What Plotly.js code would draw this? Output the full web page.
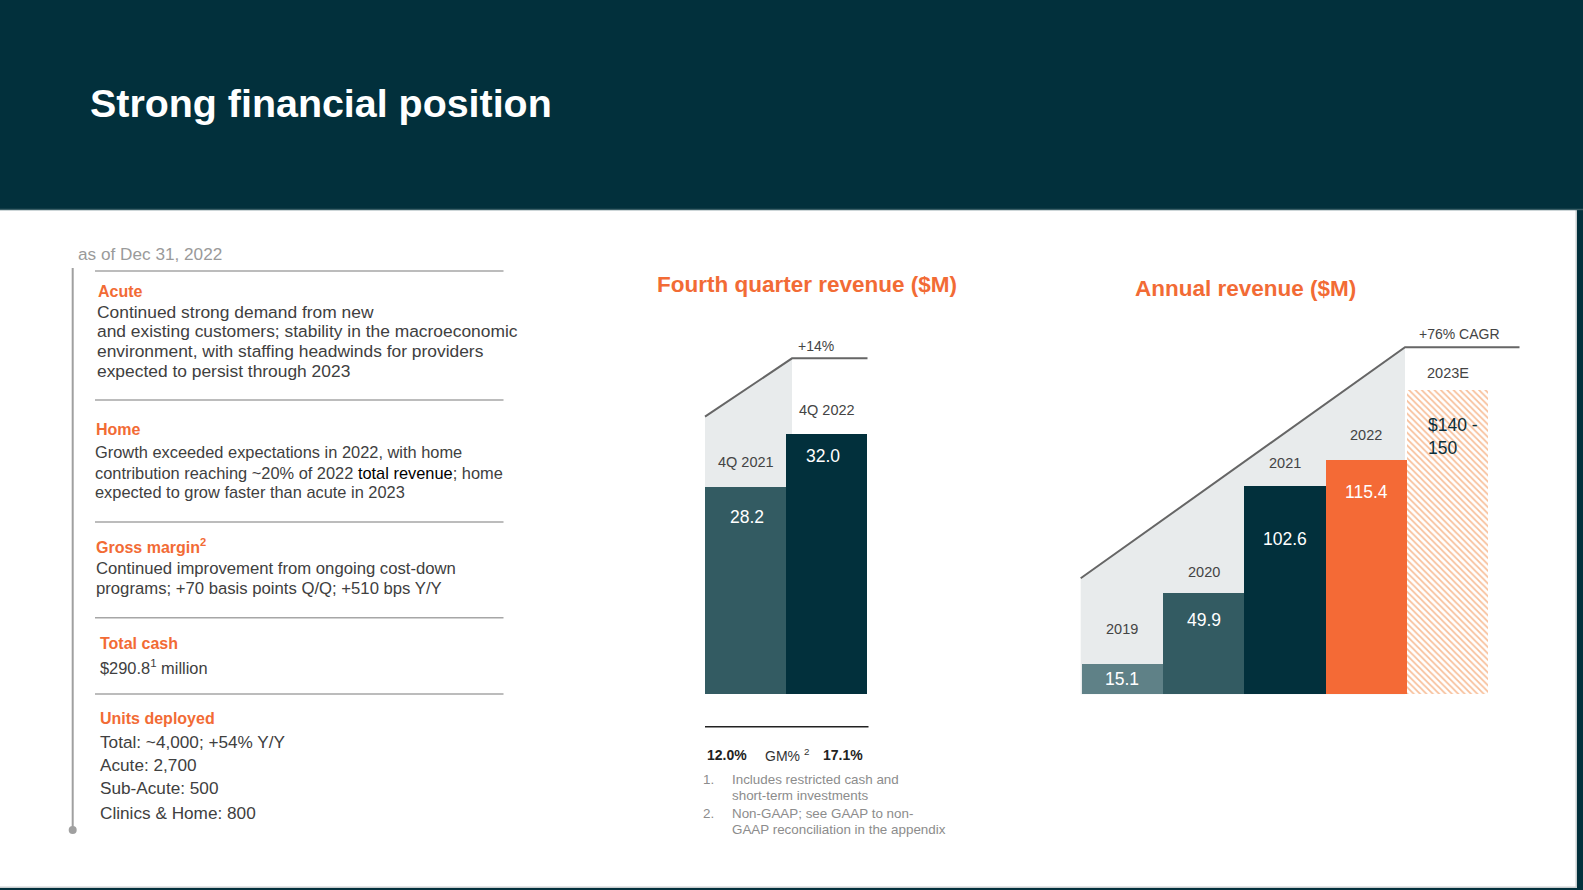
<!DOCTYPE html>
<html>
<head>
<meta charset="utf-8">
<script src="https://cdn.plot.ly/plotly-3.0.1.min.js"></script>
<style>html,body{margin:0;padding:0;background:#02303C;}#chart{width:1583px;height:890px;}</style>
</head>
<body>
<div id="chart"></div>
<script>
// ---------- DATA ----------
const quarterLabels = ['4Q 2021', '4Q 2022'];
const quarterRevenue = [28.2, 32.0];
const quarterValueText = ['28.2', '32.0'];
const quarterGM = ['12.0%', '17.1%'];
const quarterGrowth = '+14%';

const years = ['2019', '2020', '2021', '2022', '2023E'];
const annualRevenue = [15.1, 49.9, 102.6, 115.4, 150];   // 2023E drawn to top of $140-150 guidance
const annualValueText = ['15.1', '49.9', '102.6', '115.4', '$140 -<br>150'];
const annualGrowth = '+76% CAGR';

const headings = ['Acute', 'Home', 'Gross margin<sup>2</sup>', 'Total cash', 'Units deployed'];
const acuteLines = ['Continued strong demand from new',
  'and existing customers; stability in the macroeconomic',
  'environment, with staffing headwinds for providers',
  'expected to persist through 2023'];
const homeLines = ['Growth exceeded expectations in 2022, with home',
  'contribution reaching ~20% of 2022 <span style="color:#000000">total revenue</span>; home',
  'expected to grow faster than acute in 2023'];
const gmLines = ['Continued improvement from ongoing cost-down',
  'programs; +70 basis points Q/Q; +510 bps Y/Y'];
const cashLines = ['$290.8<sup>1</sup> million'];
const unitLines = ['Total: ~4,000; +54% Y/Y', 'Acute: 2,700', 'Sub-Acute: 500', 'Clinics &amp; Home: 800'];
const footnotes = [['1.', 'Includes restricted cash and', 'short-term investments'],
  ['2.', 'Non-GAAP; see GAAP to non-', 'GAAP reconciliation in the appendix']];

// ---------- STYLE / LAYOUT ----------
const W = 1583, H = 890;
const X = v => v / W;
const Y = v => 1 - v / H;
const FONT = 'Liberation Sans, Arial, Helvetica, sans-serif';
const DARK = '#02303C';
const ORANGE = '#F26B35';
const BODY = '#404040';
const GRAYTXT = '#444444';

const quarterColors = ['#335B62', '#02303C'];
const annualColors = ['#5F8187', '#335B62', '#02303C', '#F46A36'];
const nActual = 4;

const traces = [
  {
    type: 'bar', x: quarterLabels, y: quarterRevenue, xaxis: 'x', yaxis: 'y',
    marker: {color: quarterColors, line: {width: 0}}, width: 1, hoverinfo: 'skip', showlegend: false
  },
  {
    type: 'bar', x: years.slice(0, nActual), y: annualRevenue.slice(0, nActual), xaxis: 'x2', yaxis: 'y2',
    marker: {color: annualColors, line: {width: 0}}, width: 1, hoverinfo: 'skip', showlegend: false
  },
  {
    type: 'bar', x: years.slice(nActual), y: annualRevenue.slice(nActual), xaxis: 'x2', yaxis: 'y2',
    marker: {
      color: '#FFFFFF', line: {width: 0},
      pattern: {shape: '\\', fgcolor: '#F8BE98', bgcolor: '#FFFFFF', size: 4.5, solidity: 0.38, fillmode: 'replace'}
    },
    width: 1, hoverinfo: 'skip', showlegend: false
  }
];

const ann = [];
function T(text, x, y, size, color, opts) {
  ann.push(Object.assign({
    xref: 'paper', yref: 'paper', x: X(x), y: Y(y), text: text, showarrow: false,
    xanchor: 'left', yanchor: 'middle', font: {family: FONT, size: size, color: color}
  }, opts || {}));
}

// Title
T('<b>Strong financial position</b>', 88, 103, 39.4, '#FFFFFF');
// as of
T('as of Dec 31, 2022', 76, 254, 17.2, '#9A9A9A');

// Left panel
const headPos = [[96, 291], [94, 429], [94, 546], [98, 643], [98, 718]];
headings.forEach((h, i) => T('<b>' + h + '</b>', headPos[i][0], headPos[i][1], 16, ORANGE));
acuteLines.forEach((t, i) => T(t, 95, 311.5 + i * 19.8, 17.4, BODY));
homeLines.forEach((t, i) => T(t, 93, 452.5 + i * 20, 16.4, BODY));
gmLines.forEach((t, i) => T(t, 94, 568.3 + i * 20, 16.7, BODY));
cashLines.forEach((t, i) => T(t, 98, 667, 16.4, BODY));
const unitY = [742.3, 765, 788.3, 812.7];
unitLines.forEach((t, i) => T(t, 98, unitY[i], 17.2, BODY));

// Chart titles
T('<b>Fourth quarter revenue ($M)</b>', 807, 284, 22.5, ORANGE, {xanchor: 'center'});
T('<b>Annual revenue ($M)</b>', 1245, 288, 22.5, ORANGE, {xanchor: 'center'});

// Growth labels
T(quarterGrowth, 815.7, 346, 14, GRAYTXT, {xanchor: 'center'});
T(annualGrowth, 1459, 334, 14, GRAYTXT, {xanchor: 'center'});

// Quarter labels (above bars) and values (inside)
const qAbove = [25, 24], qBelow = [30, 22];
quarterLabels.forEach((c, i) => {
  ann.push({xref: 'x', yref: 'y', x: i, y: quarterRevenue[i], yshift: qAbove[i], text: c, showarrow: false,
    xanchor: 'center', yanchor: 'middle', font: {family: FONT, size: 14.5, color: GRAYTXT}});
  ann.push({xref: 'x', yref: 'y', x: i, y: quarterRevenue[i], yshift: -qBelow[i], xshift: i === 1 ? -4 : 1, text: quarterValueText[i], showarrow: false,
    xanchor: 'center', yanchor: 'middle', font: {family: FONT, size: 17.5, color: '#FFFFFF'}});
});
// Annual labels
const aAbove = [35, 21, 23, 25, 17], aBelow = [15, 27, 53, 32, 47];
years.forEach((c, i) => {
  ann.push({xref: 'x2', yref: 'y2', x: i, y: annualRevenue[i], yshift: aAbove[i], text: c, showarrow: false,
    xanchor: 'center', yanchor: 'middle', font: {family: FONT, size: 14.5, color: GRAYTXT}});
  const last = i === years.length - 1;
  ann.push({xref: 'x2', yref: 'y2', x: i, y: annualRevenue[i], yshift: -aBelow[i], xshift: last ? -22 : 0,
    text: annualValueText[i], showarrow: false, align: last ? 'left' : 'center',
    xanchor: last ? 'left' : 'center', yanchor: 'middle',
    font: {family: FONT, size: 17.5, color: last ? '#0B2F3A' : '#FFFFFF'}});
});

// GM row
T('<b>' + quarterGM[0] + '</b>', 705, 755, 14, '#222222');
T('GM% <sup>2</sup>', 763, 755, 14, '#333333');
T('<b>' + quarterGM[1] + '</b>', 821, 755, 14, '#222222');

// Footnotes
footnotes.forEach((f, i) => {
  const y0 = 779 + i * 34;
  T(f[0], 701, y0, 13.4, '#8C8C8C');
  T(f[1], 729.5, y0, 13.4, '#8C8C8C');
  T(f[2], 729.5, y0 + 16.8, 13.4, '#8C8C8C');
});

// Shapes (decoration)
function P(pts, close) {
  return 'M ' + pts.map(p => X(p[0]).toFixed(5) + ',' + Y(p[1]).toFixed(5)).join(' L ') + (close ? ' Z' : '');
}
const shapes = [
  // white panel
  {type: 'rect', xref: 'paper', yref: 'paper', x0: 0, x1: X(1577), y0: Y(888), y1: Y(210), fillcolor: '#C9CDCE', line: {width: 0}, layer: 'below'},
  {type: 'rect', xref: 'paper', yref: 'paper', x0: 0, x1: X(1575.5), y0: Y(886.5), y1: Y(210), fillcolor: '#FFFFFF', line: {width: 0}, layer: 'below'},
  // header bottom line
  {type: 'line', xref: 'paper', yref: 'paper', x0: 0, x1: 1, y0: Y(209.5), y1: Y(209.5), line: {color: '#3B5E66', width: 1.5}, layer: 'below'},
  // gray fills
  {type: 'path', xref: 'paper', yref: 'paper', path: P([[705, 694], [705, 416.7], [792, 358.3], [792, 694]], true), fillcolor: '#E8EBEC', line: {width: 0}, layer: 'below'},
  {type: 'path', xref: 'paper', yref: 'paper', path: P([[1080.7, 694.3], [1080.7, 578.3], [1405, 347.3], [1405, 694.3]], true), fillcolor: '#E8EBEC', line: {width: 0}, layer: 'below'},
  // diagonal growth lines
  {type: 'path', xref: 'paper', yref: 'paper', path: P([[705, 416.7], [792, 358.3], [867.5, 358.3]], false), line: {color: '#666666', width: 2}},
  {type: 'path', xref: 'paper', yref: 'paper', path: P([[1080.7, 578.3], [1405, 347.3], [1519.5, 347.3]], false), line: {color: '#666666', width: 2}},
  // separators left panel
  ...[271, 400, 522, 617.7, 694].map(y => ({type: 'line', xref: 'paper', yref: 'paper', x0: X(95), x1: X(503.5), y0: Y(y), y1: Y(y), line: {color: '#A6A6A6', width: 1.5}})),
  // vertical timeline
  {type: 'line', xref: 'paper', yref: 'paper', x0: X(72.7), x1: X(72.7), y0: Y(268), y1: Y(830), line: {color: '#A0A0A0', width: 2}},
  {type: 'circle', xref: 'paper', yref: 'paper', x0: X(68.7), x1: X(76.7), y0: Y(834), y1: Y(826), fillcolor: '#A0A0A0', line: {width: 0}},
  // GM line
  {type: 'line', xref: 'paper', yref: 'paper', x0: X(705), x1: X(868.5), y0: Y(726.7), y1: Y(726.7), line: {color: '#222222', width: 1.5}}
];

const hiddenAxis = {showgrid: false, zeroline: false, showticklabels: false, ticks: '', showline: false, fixedrange: true};

const layout = {
  width: W, height: H,
  margin: {l: 0, r: 0, t: 0, b: 0, pad: 0},
  paper_bgcolor: DARK, plot_bgcolor: 'rgba(0,0,0,0)',
  bargap: 0, barmode: 'overlay', showlegend: false,
  xaxis: Object.assign({}, hiddenAxis, {domain: [X(705), X(867)], range: [-0.5, 1.5], type: 'category', anchor: 'y'}),
  yaxis: Object.assign({}, hiddenAxis, {domain: [Y(694), Y(340)], range: [13.47, 38.70], anchor: 'x'}),
  xaxis2: Object.assign({}, hiddenAxis, {domain: [X(1081.7), X(1488.3)], range: [-0.5, 4.5], type: 'category', categoryorder: 'array', categoryarray: years, anchor: 'y2'}),
  yaxis2: Object.assign({}, hiddenAxis, {domain: [Y(694.3), Y(330)], range: [0, 364.3 / 2.03], anchor: 'x2'}),
  annotations: ann,
  shapes: shapes
};

Plotly.newPlot('chart', traces, layout, {displayModeBar: false, staticPlot: true});
</script>
</body>
</html>
